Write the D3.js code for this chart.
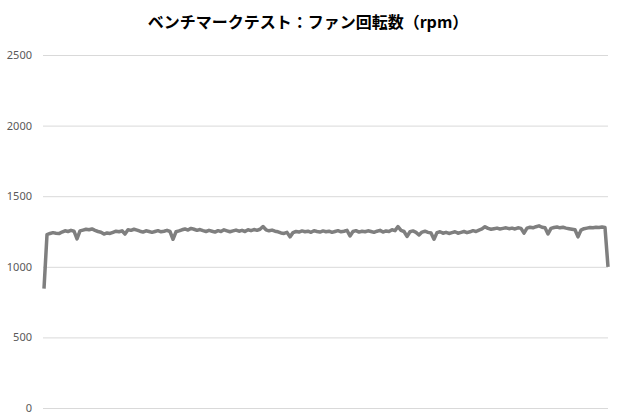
<!DOCTYPE html>
<html>
<head>
<meta charset="utf-8">
<script src="https://cdn.jsdelivr.net/npm/d3@7"></script>
<style>
  body { margin: 0; background: #fff; }
  svg { display: block; }
</style>
</head>
<body>
<div id="chart"></div>
<script>
var title = 'ベンチマークテスト：ファン回転数（rpm）';
var yTicks = [0, 500, 1000, 1500, 2000, 2500];
// fan speed samples (rpm)
var rpm = [
  845, 1228, 1236, 1242, 1238, 1235, 1246, 1255, 1250, 1258,
  1252, 1198, 1254, 1260, 1266, 1262, 1268, 1258, 1250, 1245,
  1232, 1240, 1236, 1244, 1252, 1248, 1255, 1232, 1262, 1258,
  1266, 1260, 1252, 1246, 1255, 1250, 1244, 1250, 1256, 1248,
  1252, 1258, 1250, 1195, 1248, 1254, 1262, 1268, 1260, 1272,
  1266, 1258, 1264, 1256, 1250, 1258, 1252, 1246, 1256, 1250,
  1262, 1255, 1248, 1254, 1260, 1252, 1258, 1250, 1262, 1256,
  1264, 1258, 1266, 1285, 1262, 1255, 1260, 1252, 1248, 1240,
  1236, 1244, 1212, 1242, 1250, 1246, 1254, 1248, 1252, 1244,
  1256, 1250, 1246, 1254, 1248, 1252, 1244, 1250, 1256, 1248,
  1252, 1258, 1218, 1250, 1256, 1246, 1252, 1248, 1255, 1250,
  1244, 1252, 1258, 1246, 1254, 1250, 1262, 1256, 1285, 1258,
  1250, 1215, 1248, 1254, 1244, 1225, 1246, 1252, 1244, 1240,
  1195, 1242, 1248, 1238, 1244, 1236, 1242, 1248, 1238, 1244,
  1250, 1242, 1248, 1256, 1250, 1260, 1268, 1284, 1272, 1266,
  1270, 1274, 1268, 1272, 1276, 1270, 1274, 1268, 1276, 1272,
  1238, 1274, 1280, 1276, 1284, 1290, 1280, 1276, 1232, 1272,
  1278, 1282, 1276, 1280, 1274, 1270, 1266, 1262, 1212, 1260,
  1270, 1274, 1278, 1276, 1280, 1278, 1282, 1278, 1000
];

var width = 620, height = 420;
var margin = { top: 55, right: 12, bottom: 12, left: 43 };

var svg = d3.select('#chart').append('svg')
    .attr('width', width)
    .attr('height', height);

var x = d3.scaleLinear()
    .domain([0, rpm.length - 1])
    .range([44, 608]);
var y = d3.scaleLinear()
    .domain([0, 2500])
    .range([408, margin.top]);

svg.append('text')
    .attr('x', 308)
    .attr('y', 28)
    .attr('text-anchor', 'middle')
    .style('font-family', '"Noto Sans CJK JP", "Noto Sans", sans-serif')
    .style('font-size', '16px')
    .style('font-weight', 'bold')
    .style('fill', '#000')
    .text(title);

// gridlines + tick labels
var yAxis = d3.axisLeft(y)
    .tickValues(yTicks)
    .tickFormat(d3.format('d'))
    .tickSizeInner(-(608 - margin.left))
    .tickSizeOuter(0)
    .tickPadding(11);
var axisG = svg.append('g')
    .attr('transform', 'translate(' + margin.left + ',0)')
    .call(yAxis);
axisG.select('.domain').remove();
axisG.selectAll('line')
    .attr('stroke', '#d9d9d9')
    .attr('stroke-width', 1);
axisG.selectAll('text')
    .style('font-family', '"Noto Sans", "DejaVu Sans", sans-serif')
    .style('font-size', '11px')
    .attr('fill', '#595959');

var line = d3.line()
    .x(function (d, i) { return x(i); })
    .y(function (d) { return y(d); });

svg.append('path')
    .datum(rpm)
    .attr('d', line)
    .attr('fill', 'none')
    .attr('stroke', '#7f7f7f')
    .attr('stroke-width', 3.5)
    .attr('stroke-linejoin', 'round');
</script>
</body>
</html>
